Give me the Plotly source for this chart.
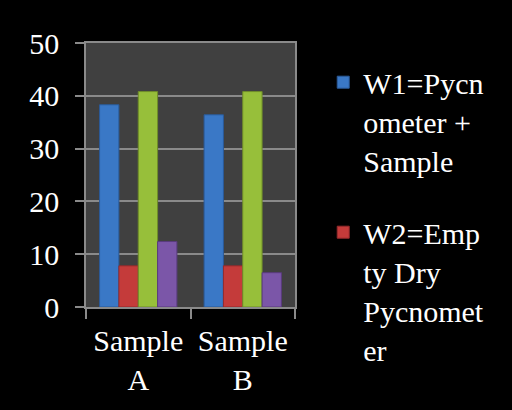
import plotly.graph_objects as go

categories = ["Sample<br>A", "Sample<br>B"]
series_names = [
    "W1=Pycn<br>ometer +<br>Sample",
    "W2=Emp<br>ty Dry<br>Pycnomet<br>er",
    "W3",
    "W4",
]
w1 = [38.3, 36.4]
w2 = [7.8, 7.8]
w3 = [40.8, 40.8]
w4 = [12.4, 6.5]
values = [w1, w2, w3, w4]
colors = ["#3a78c6", "#c43b3a", "#97bf3a", "#7b56a8"]
line_colors = ["#2a5a99", "#952a2c", "#6f8c29", "#5a3b7d"]
show_leg = [True, True, False, False]

fig = go.Figure()
for i, (name, vals) in enumerate(zip(series_names, values)):
    fig.add_trace(go.Bar(
        x=categories, y=vals, name=name,
        marker=dict(color=colors[i], line=dict(color=line_colors[i], width=1)),
        showlegend=show_leg[i], legendgroup=f"g{i}",
    ))

font_family = "Liberation Serif"
fs = 30
fig.update_layout(
    width=512, height=410,
    margin=dict(l=86, r=217, t=43, b=103),
    paper_bgcolor="#000000",
    plot_bgcolor="#404040",
    barmode="group", bargap=0.26, bargroupgap=0,
    font=dict(family=font_family, color="white", size=fs),
    legend=dict(
        x=1.135, y=0.95, xanchor="left", yanchor="top",
        bgcolor="rgba(0,0,0,0)", font=dict(size=fs, family=font_family, color="white"),
        valign="top", tracegroupgap=30, itemwidth=30, maxheight=400,
    ),
    showlegend=True,
)
fig.update_yaxes(
    range=[0, 50], dtick=10, showgrid=True, gridcolor="#8a8a8a", gridwidth=2,
    showline=True, linecolor="#8a8a8a", linewidth=1.5, mirror=True,
    ticks="outside", ticklen=9, tickcolor="#8a8a8a", tickwidth=2,
    ticklabelstandoff=10,
    tickfont=dict(size=fs, family=font_family, color="white"), zeroline=False,
)
fig.update_xaxes(
    showline=True, linecolor="#8a8a8a", linewidth=2, mirror=True,
    ticks="outside", ticklen=10, tickcolor="#8a8a8a", tickwidth=2,
    tickson="boundaries", ticklabelstandoff=6,
    tickfont=dict(size=fs, family=font_family, color="white"),
)

fig.write_html("out.html")
